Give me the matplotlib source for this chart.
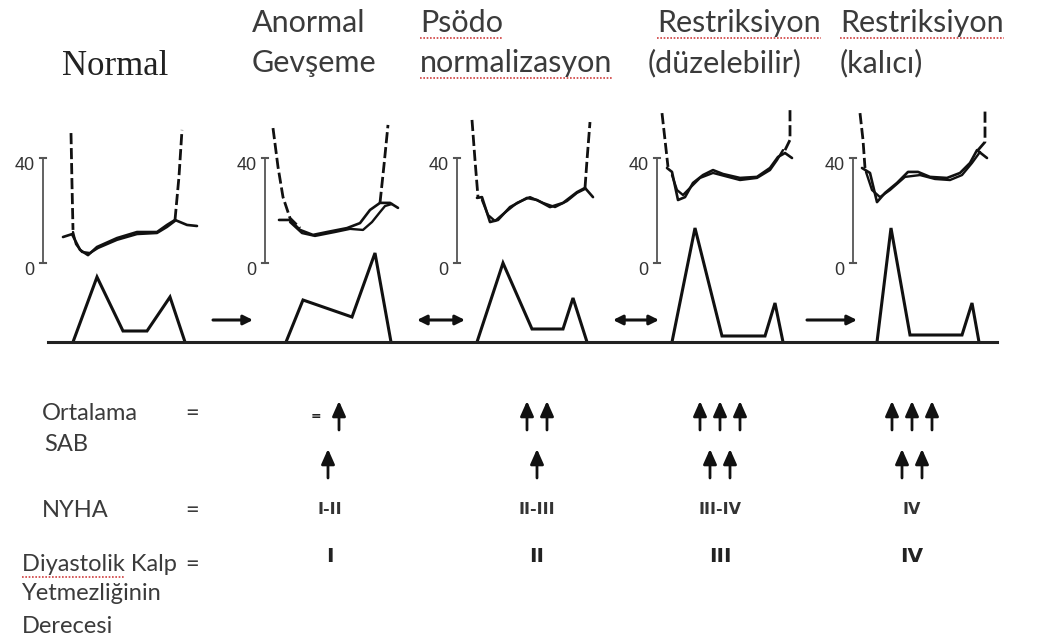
import numpy as np
import matplotlib.pyplot as plt
from matplotlib.transforms import Affine2D

# ------------------ Data ------------------
# pressure traces, one list per panel: time (px from scale bar) and pressure (mmHg)
la_time = [[20, 29, 37, 45, 54, 74, 94, 114, 124, 132, 144, 154],
           [14, 25, 35, 48, 62, 82, 95, 105, 115, 125, 133],
           [20, 25, 33, 41, 53, 70, 80, 93, 106, 120, 128, 136],
           [10, 15, 21, 28, 36, 46, 56, 66, 83, 100, 113, 121, 128, 135],
           [9, 17, 24, 32, 44, 55, 65, 77, 94, 107, 117, 124, 134]]
la_press = [[9.9, 11.0, 5.0, 3.0, 6.1, 9.5, 11.8, 11.8, 14.5, 16.4, 14.5, 14.1],
            [16.4, 16.4, 12.6, 10.7, 11.8, 13.3, 15.2, 20.2, 22.9, 22.9, 21.0],
            [24.8, 25.1, 15.6, 16.4, 21.3, 24.8, 24.0, 21.3, 22.9, 27.0, 28.6, 25.1],
            [36.2, 34.7, 24.0, 25.1, 30.5, 33.5, 35.4, 33.9, 32.4, 32.8, 36.2, 40.4, 41.9, 40.0],
            [36.2, 34.3, 23.2, 26.7, 30.5, 34.7, 34.7, 32.8, 32.4, 34.3, 38.1, 43.0, 40.0]]
lv_time = [[30, 33, 39, 47, 55, 74, 94, 114, 124, 132],
           [25, 37, 50, 70, 85, 98, 107, 115, 120, 127],
           [25, 31, 38, 45, 60, 73, 86, 98, 110, 120, 128],
           [15, 20, 26, 33, 43, 56, 68, 83, 100, 113, 120, 126],
           [13, 19, 27, 37, 52, 67, 82, 97, 109, 119, 127]]
lv_press = [[11.8, 7.2, 4.2, 3.8, 5.7, 8.8, 11.0, 11.4, 13.7, 16.0],
            [15.6, 11.4, 10.3, 11.8, 13.0, 12.6, 15.6, 19.4, 21.7, 22.5],
            [24.0, 18.3, 16.0, 18.3, 22.9, 25.1, 22.9, 21.3, 23.6, 26.7, 28.2],
            [33.5, 27.8, 25.9, 28.6, 32.4, 34.3, 33.1, 31.6, 32.4, 35.4, 39.2, 43.0],
            [34.7, 27.8, 25.1, 27.8, 32.8, 33.5, 32.0, 31.6, 33.5, 38.1, 42.3]]
# dashed LV relaxation (left) and LV rise (right)
lv_fall_time = [[28, 29, 30], [8, 13, 18, 25, 35], [15, 18, 21], [5, 8, 11], [7, 10, 12]]
lv_fall_press = [[49.5, 30.0, 12.6], [51.4, 36.6, 25.1, 17.1, 13.3], [54.5, 39.2, 25.1],
                 [57.1, 46.9, 36.6], [57.1, 46.9, 36.2]]
lv_rise_time = [[132, 136, 139], [115, 119, 123], [128, 130, 133], [128, 133, 133], [125, 132, 132]]
lv_rise_press = [[16.4, 33.0, 50.7], [22.9, 37.3, 52.6], [28.6, 39.2, 53.7],
                 [43.0, 46.9, 58.3], [43.0, 46.1, 58.3]]

# mitral inflow doppler (E and A waves), time from scale bar, velocity
dop_time = [[30, 54, 80, 104, 127, 142],
            [21, 38, 87, 110, 126],
            [20, 46, 75, 106, 116, 130],
            [15, 38, 65, 108, 118, 126],
            [24, 38, 57, 109, 119, 126]]
dop_vel = [[0, 65, 11, 11, 45, 0],
           [0, 42, 25, 89, 0],
           [0, 79, 13, 13, 44, 0],
           [0, 114, 6, 6, 39, 0],
           [0, 114, 7, 7, 39, 0]]

# transitions between stages
transition = ['->', '<->', '<->', '->']

# table
row_labels = [['Ortalama', 'SAB'], ['NYHA'], ['Diyastolik Kalp', 'Yetmezliğinin', 'Derecesi']]
lap_arrows_1 = [1, 2, 3, 3]
lap_arrows_2 = [1, 1, 2, 2]
nyha_class = ['I-II', 'II-III', 'III-IV', 'IV']
dhf_grade = ['I', 'II', 'III', 'IV']

# ------------------ Layout ------------------
bar_x = [43, 265, 457, 657, 853]
ZERO_Y, MMHG_PX, BASE_Y = 263, 2.625, 342
trans_x = [(213, 253), (417, 465), (613, 659), (807, 857)]
col_x = [330, 537, 720, 912]
TXT = '#3b3b3b'
SANS = 'Lato'
TSIZE = 22

fig = plt.figure(figsize=(10.54, 6.42), dpi=100)
ax = fig.add_axes([0, 0, 1, 1])
ax.set_xlim(0, 1054)
ax.set_ylim(642, 0)
ax.axis('off')

# ------------------ Titles ------------------
ax.text(62, 75, 'Normal', family='Liberation Serif', fontsize=25, color='#222', va='baseline')
titles = [(252, 'Anormal', 'Gevşeme'), (420, 'Psödo', 'normalizasyon'),
          (657, 'Restriksiyon', None), (840, 'Restriksiyon', '(kalıcı)')]
squiggle = []
for x, l1, l2 in titles:
    t1 = ax.text(x, 32, l1, family=SANS, fontsize=TSIZE, color=TXT, va='baseline')
    if l1 != 'Anormal':
        squiggle.append(t1)
    if l2:
        t2 = ax.text(x, 72, l2, family=SANS, fontsize=TSIZE, color=TXT, va='baseline')
        if l2 == 'normalizasyon':
            squiggle.append(t2)
ax.text(648, 72, '(düzelebilir)', family=SANS, fontsize=TSIZE, color=TXT, va='baseline')

# ------------------ Panels ------------------
for i in range(5):
    tp = Affine2D().scale(1, -MMHG_PX).translate(bar_x[i], ZERO_Y) + ax.transData
    td = Affine2D().scale(1, -1).translate(bar_x[i], BASE_Y) + ax.transData

    # scale bar 0-40 mmHg
    ax.plot([0, 0], [0, 40], color='#555', lw=1.3, transform=tp)
    for yv in (0, 40):
        ax.plot([-3, 3], [yv, yv], color='#555', lw=1.5, transform=tp)
    ax.text(-8, 37.3, '40', ha='right', va='center', fontsize=13, color='#333',
            family='Liberation Sans', transform=tp)
    ax.text(-9, -2.7, '0', ha='right', va='center', fontsize=13, color='#333',
            family='Liberation Sans', transform=tp)

    ax.plot(la_time[i], la_press[i], color='#111', lw=1.9, transform=tp, solid_capstyle='round')
    ax.plot(lv_time[i], lv_press[i], color='#111', lw=1.7, transform=tp, solid_capstyle='round')
    ax.plot(lv_fall_time[i], lv_fall_press[i], color='#111', lw=2.0, ls=(0, (4, 1.4)), transform=tp)
    ax.plot(lv_rise_time[i], lv_rise_press[i], color='#111', lw=2.0, ls=(0, (4, 1.4)), transform=tp)

    ax.plot(dop_time[i], dop_vel[i], color='#111', lw=2.2, transform=td, solid_joinstyle='miter')

# baseline
ax.plot([48, 997], [BASE_Y, BASE_Y], color='#222', lw=2.2)

# transitions
for (x0, x1), style in zip(trans_x, transition):
    ax.annotate('', xy=(x1, 320), xytext=(x0, 320),
                arrowprops=dict(arrowstyle=style.replace('>', '|>').replace('<', '<|'),
                                color='#111', lw=2.2, shrinkA=0, shrinkB=0, mutation_scale=14))

# ------------------ Table ------------------
lab_kw = dict(family=SANS, fontsize=17, color=TXT, va='baseline')
ax.text(42, 420, row_labels[0][0], **lab_kw)
ax.text(44, 451, row_labels[0][1], **lab_kw)
ax.text(42, 517, row_labels[1][0], **lab_kw)
ax.text(22, 571, row_labels[2][0], **lab_kw)
squiggle.append(('Diyastolik', 22))
ax.text(22, 600, row_labels[2][1], **lab_kw)
ax.text(22, 633, row_labels[2][2], **lab_kw)
for y in (420, 517, 571):
    ax.text(185, y, '=', **lab_kw)


def up_arrows(cx, y_top, n):
    for k in range(n):
        x = cx + (k - (n - 1) / 2) * 20
        ax.annotate('', xy=(x, y_top), xytext=(x, y_top + 29),
                    arrowprops=dict(arrowstyle='-|>,head_length=0.45,head_width=0.2',
                                    color='#111', lw=2.0, shrinkA=0, shrinkB=0,
                                    mutation_scale=20))


for j in range(4):
    cx = col_x[j]
    if j == 0:
        ax.text(cx - 14, 416, '=', ha='center', va='center', fontsize=9,
                fontweight='bold', color='#222')
        up_arrows(cx + 9, 401, 1)
        up_arrows(cx - 2, 449, 1)
    else:
        up_arrows(cx, 401, lap_arrows_1[j])
        up_arrows(cx, 449, lap_arrows_2[j])
    ax.text(cx, 510, nyha_class[j], ha='center', va='center', fontsize=11.5,
            fontweight='bold', color='#333', family='DejaVu Sans')
    ax.text(cx, 556, dhf_grade[j], ha='center', va='center', fontsize=14.5,
            fontweight='bold', color='#222', family='DejaVu Sans')

# ------------------ Spell-check squiggles ------------------
fig.canvas.draw()
inv = ax.transData.inverted()
for item in squiggle:
    if isinstance(item, tuple):
        tmp = ax.text(item[1], 571, item[0], **lab_kw)
        bb = tmp.get_window_extent()
        tmp.remove()
        y = 577
    else:
        bb = item.get_window_extent()
        y = item.get_position()[1] + 6
    (xa, _), (xb, _) = inv.transform([[bb.x0, bb.y0], [bb.x1, bb.y1]])
    ax.plot([xa, xb], [y, y], color='#d04040', lw=1.2, ls=(0, (1, 1)))

fig.savefig('out.png', dpi=100)
